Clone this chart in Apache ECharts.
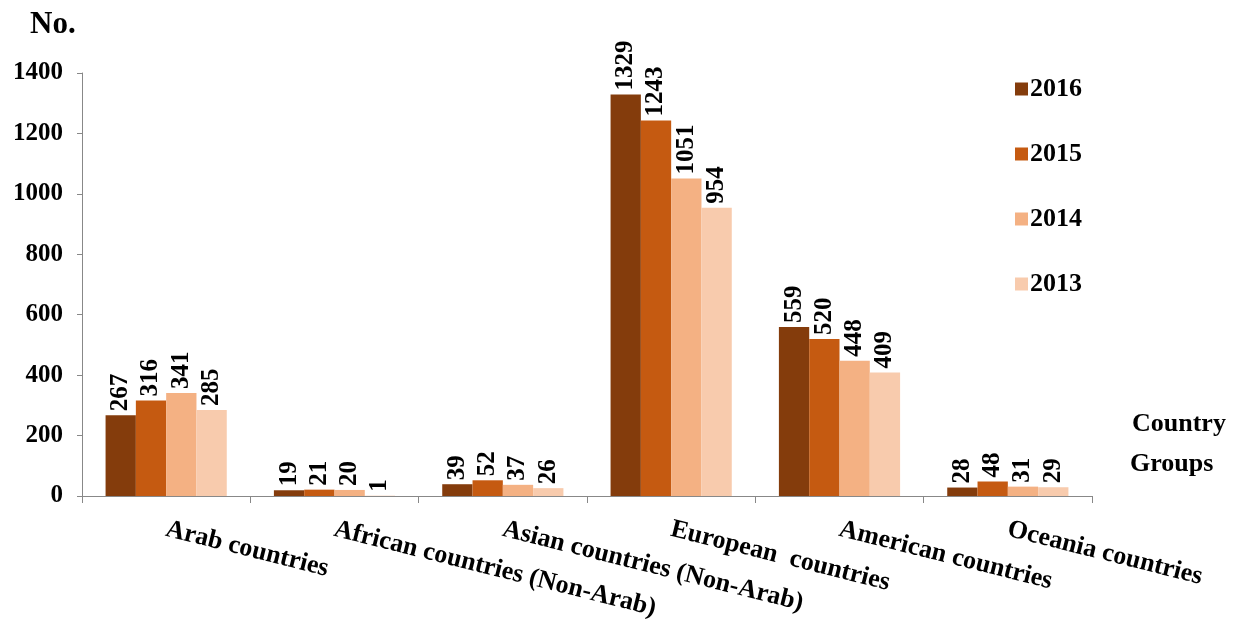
<!DOCTYPE html>
<html>
<head>
<meta charset="utf-8">
<script src="https://cdn.jsdelivr.net/npm/echarts@6/dist/echarts.min.js"></script>
<style>
html,body{margin:0;padding:0;background:#fff;}
#chart{width:1238px;height:623px;}
</style>
</head>
<body>
<div id="chart"></div>
<script>
var categories = ['Arab countries', 'African countries (Non-Arab)', 'Asian countries (Non-Arab)', 'European  countries', 'American countries', 'Oceania countries'];
var seriesNames = ['2016', '2015', '2014', '2013'];
var v2016 = [267, 19, 39, 1329, 559, 28];
var v2015 = [316, 21, 52, 1243, 520, 48];
var v2014 = [341, 20, 37, 1051, 448, 31];
var v2013 = [285, 1, 26, 954, 409, 29];
var yTicks = [0, 200, 400, 600, 800, 1000, 1200, 1400];

var colors = ['#843C0C', '#C55A11', '#F4B183', '#F8CBAD'];
var values = [v2016, v2015, v2014, v2013];
var font = "'Liberation Serif', 'Times New Roman', serif";

var chart = echarts.init(document.getElementById('chart'));
var series = seriesNames.map(function (name, i) {
  return {
    name: name,
    type: 'bar',
    data: values[i],
    barGap: '0%',
    barCategoryGap: '28%',
    itemStyle: { color: colors[i] },
    label: {
      show: true,
      position: 'top',
      rotate: 90,
      align: 'left',
      verticalAlign: 'middle',
      distance: 4,
      fontFamily: font,
      fontWeight: 'bold',
      fontSize: 25,
      color: '#000'
    }
  };
});

chart.setOption({
  animation: false,
  backgroundColor: '#fff',
  color: colors,
  textStyle: { fontFamily: font },
  grid: { left: 82, right: 146, top: 73, bottom: 127, containLabel: false },
  title: [
    { text: 'No.', left: 25, top: 4, textStyle: { fontFamily: font, fontWeight: 'bold', fontSize: 31, color: '#000' } },
    { text: 'Country', left: 1127, top: 406, textStyle: { fontFamily: font, fontWeight: 'bold', fontSize: 26, color: '#000' } },
    { text: 'Groups', left: 1125, top: 446, textStyle: { fontFamily: font, fontWeight: 'bold', fontSize: 26, color: '#000' } }
  ],
  legend: {
    orient: 'vertical',
    left: 1010,
    top: 71,
    itemWidth: 13,
    itemHeight: 13,
    itemGap: 39,
    icon: 'rect',
    data: seriesNames,
    textStyle: { fontFamily: font, fontWeight: 'bold', fontSize: 26, color: '#000', padding: [0, 0, 0, -3] }
  },
  xAxis: {
    type: 'category',
    data: categories,
    axisLine: { lineStyle: { color: '#888', width: 1 } },
    axisTick: { show: true, length: 7, lineStyle: { color: '#888' } },
    axisLabel: {
      interval: 0,
      rotate: -14,
      margin: 33,
      fontFamily: font,
      fontWeight: 'bold',
      fontSize: 26,
      color: '#000'
    }
  },
  yAxis: {
    type: 'value',
    min: 0,
    max: 1400,
    interval: 200,
    splitLine: { show: false },
    axisLine: { show: true, lineStyle: { color: '#888', width: 1 } },
    axisTick: { show: true, length: 5, lineStyle: { color: '#888' } },
    axisLabel: {
      margin: 19,
      fontFamily: font,
      fontWeight: 'bold',
      fontSize: 25,
      color: '#000',
      formatter: function (v) { return yTicks.indexOf(v) >= 0 ? String(v) : ''; }
    }
  },
  series: series
});
</script>
</body>
</html>
